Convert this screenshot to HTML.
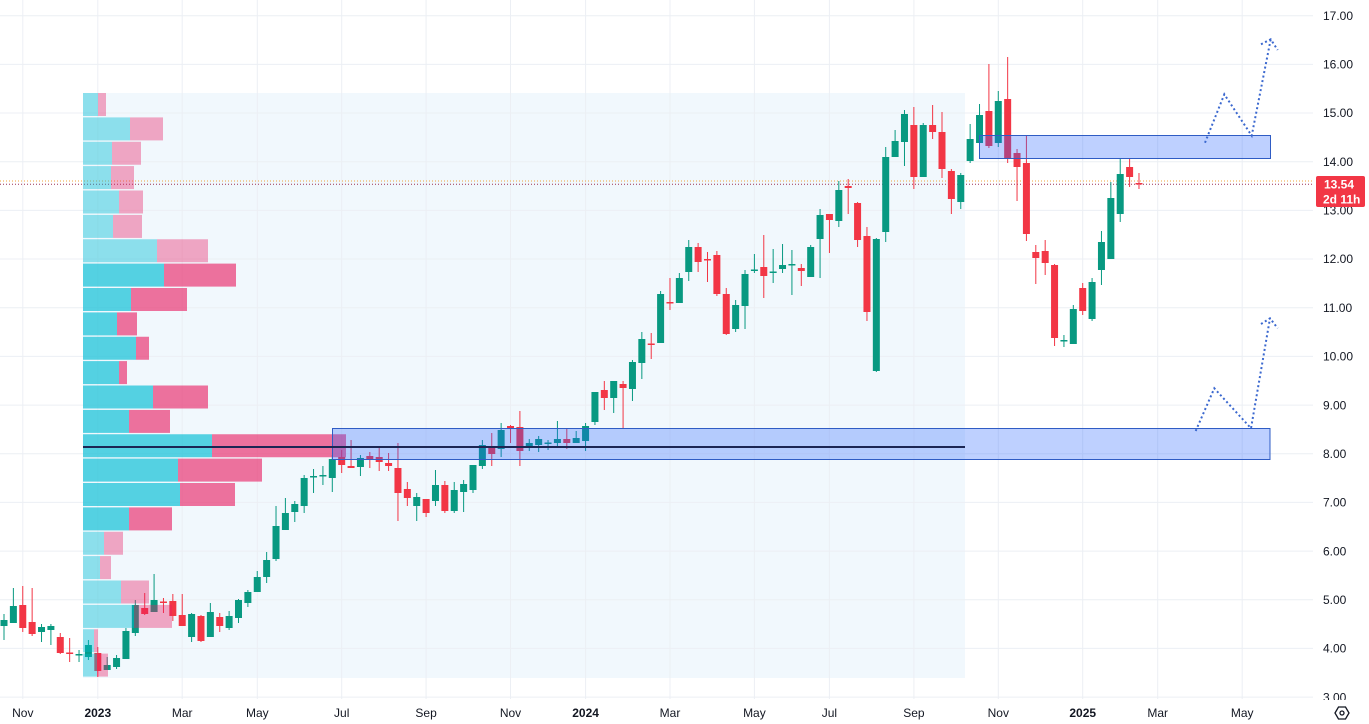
<!DOCTYPE html>
<html><head><meta charset="utf-8"><style>
html,body{margin:0;padding:0;background:#fff;}
svg{display:block;}
text{font-family:"Liberation Sans",sans-serif;font-size:12px;fill:#131722;}
</style></head><body>
<svg width="1369" height="724" viewBox="0 0 1369 724" xmlns="http://www.w3.org/2000/svg">
<rect x="0" y="0" width="1369" height="724" fill="#ffffff"/>
<!-- VP region background -->
<rect x="83" y="93" width="882" height="585" fill="#f1f8fd"/>
<!-- grid -->
<g stroke="#eceff4" stroke-width="1">
<line x1="0" x2="1313" y1="15.7" y2="15.7"/><line x1="0" x2="1313" y1="64.4" y2="64.4"/><line x1="0" x2="1313" y1="113" y2="113"/><line x1="0" x2="1313" y1="161.7" y2="161.7"/><line x1="0" x2="1313" y1="210.4" y2="210.4"/><line x1="0" x2="1313" y1="259" y2="259"/><line x1="0" x2="1313" y1="307.7" y2="307.7"/><line x1="0" x2="1313" y1="356.4" y2="356.4"/><line x1="0" x2="1313" y1="405.1" y2="405.1"/><line x1="0" x2="1313" y1="453.7" y2="453.7"/><line x1="0" x2="1313" y1="502.4" y2="502.4"/><line x1="0" x2="1313" y1="551.1" y2="551.1"/><line x1="0" x2="1313" y1="599.7" y2="599.7"/><line x1="0" x2="1313" y1="648.4" y2="648.4"/><line x1="0" x2="1313" y1="697.1" y2="697.1"/>
<line y1="0" y2="699" x1="22.8" x2="22.8"/><line y1="0" y2="699" x1="97.8" x2="97.8"/><line y1="0" y2="699" x1="182.2" x2="182.2"/><line y1="0" y2="699" x1="257.3" x2="257.3"/><line y1="0" y2="699" x1="341.7" x2="341.7"/><line y1="0" y2="699" x1="426.1" x2="426.1"/><line y1="0" y2="699" x1="510.5" x2="510.5"/><line y1="0" y2="699" x1="585.6" x2="585.6"/><line y1="0" y2="699" x1="670" x2="670"/><line y1="0" y2="699" x1="754.4" x2="754.4"/><line y1="0" y2="699" x1="829.4" x2="829.4"/><line y1="0" y2="699" x1="913.9" x2="913.9"/><line y1="0" y2="699" x1="998.3" x2="998.3"/><line y1="0" y2="699" x1="1082.7" x2="1082.7"/><line y1="0" y2="699" x1="1157.7" x2="1157.7"/><line y1="0" y2="699" x1="1242.2" x2="1242.2"/>
</g>
<!-- current price dotted lines -->
<line x1="0" x2="1313" y1="181" y2="181" stroke="#f0a43a" stroke-width="1" stroke-dasharray="1 2"/>
<line x1="0" x2="1313" y1="184.3" y2="184.3" stroke="#9a2f55" stroke-width="1" stroke-dasharray="1 2"/>
<!-- green candles -->
<path fill="none" stroke="#089981" stroke-width="1" d="M4 614V640M13.38 588V623M41.52 624V642M50.9 624V645M79.04 650V662M88.42 640V660M107.18 657V670M116.56 655V669M125.94 628V659M135.32 600V636M154.08 574V612M191.6 613V642M210.36 603V637M229.12 611V630M238.5 599V623M247.88 590V607M257.26 571V592M266.64 552V583M276.02 506V561M285.4 498V530M294.78 501V522M304.16 475V513M313.54 469V493M322.92 466V485M332.3 455V492M360.44 455V476M416.72 493V521M435.48 470V506M454.24 482V513M463.62 480V512M473 465V493M482.38 440V469M501.14 423V457M529.28 439V451M538.66 436V452M548.04 440V450M557.42 421V447M576.18 431V443M585.56 423V451M594.94 392V425M613.7 381V413M632.46 360V401M641.84 332V379M660.6 291V343M679.36 273V303M688.74 240V281M735.64 300V332M745.02 270V329M754.4 254V273M773.16 249V283M782.54 244V273M791.92 250V295M810.68 245V277M820.06 209V278M838.82 181V227M876.34 238V372M885.72 147V242M895.1 130V157M904.48 110V166M923.24 123V177M960.76 173V209M970.14 124V163M979.52 104V143M998.28 91V147M1063.94 335V347M1073.32 305V344M1092.08 278V321M1101.46 231V285M1110.84 182V259M1120.22 158V222"/>
<path fill="#089981" d="M0.5 620h7v6h-7zM9.88 606h7v17h-7zM38.02 627h7v5h-7zM47.4 626h7v4h-7zM75.54 654h7v1.5h-7zM84.92 645h7v12h-7zM103.68 665h7v5h-7zM113.06 658h7v9h-7zM122.44 631h7v28h-7zM131.82 605h7v28h-7zM150.58 600h7v12h-7zM188.1 614h7v23h-7zM206.86 612h7v25h-7zM225.62 616h7v12h-7zM235 600h7v18h-7zM244.38 592h7v11h-7zM253.76 577h7v15h-7zM263.14 560h7v17h-7zM272.52 526h7v33h-7zM281.9 513h7v17h-7zM291.28 504h7v8h-7zM300.66 478h7v28h-7zM310.04 476h7v1.5h-7zM319.42 475h7v1.5h-7zM328.8 459h7v19h-7zM356.94 458h7v9h-7zM413.22 497h7v9h-7zM431.98 485h7v16h-7zM450.74 490h7v21h-7zM460.12 484h7v8h-7zM469.5 465h7v25h-7zM478.88 445h7v21h-7zM497.64 430h7v19h-7zM525.78 443h7v5h-7zM535.16 439h7v6h-7zM544.54 442.5h7v1.5h-7zM553.92 439h7v4h-7zM572.68 438h7v5h-7zM582.06 426h7v15h-7zM591.44 392h7v30h-7zM610.2 381h7v17h-7zM628.96 362h7v27h-7zM638.34 339h7v24h-7zM657.1 294h7v49h-7zM675.86 278h7v25h-7zM685.24 247h7v25h-7zM732.14 305h7v24h-7zM741.52 274h7v32h-7zM750.9 269.5h7v1.5h-7zM769.66 271.5h7v1.5h-7zM779.04 265h7v4h-7zM788.42 264h7v1.5h-7zM807.18 247h7v30h-7zM816.56 215h7v24h-7zM835.32 190h7v31h-7zM872.84 239h7v132h-7zM882.22 157h7v75h-7zM891.6 141h7v16h-7zM900.98 114h7v28h-7zM919.74 125h7v52h-7zM957.26 175h7v27h-7zM966.64 139h7v22h-7zM976.02 115h7v28h-7zM994.78 101h7v42h-7zM1060.44 340h7v1.5h-7zM1069.82 309h7v35h-7zM1088.58 282h7v37h-7zM1097.96 242h7v28h-7zM1107.34 198h7v61h-7zM1116.72 174h7v40h-7z"/>
<!-- red candles -->
<path fill="none" stroke="#f23645" stroke-width="1" d="M22.76 586V632M32.14 588V636M60.28 633V654M69.66 638V662M97.8 647V677M144.7 593V615M163.46 598V613M172.84 594V621M182.22 594V626M200.98 615V642M219.74 613V632M341.68 450V473M351.06 440V468M369.82 452V468M379.2 448V471M388.58 453V471M397.96 443V521M407.34 482V506M426.1 499V517M444.86 481V513M491.76 433V466M510.52 425V443M519.9 411V466M566.8 429V449M604.32 381V410M623.08 381V428M651.22 333V359M669.98 278V310M698.12 243V272M707.5 252V282M716.88 251V296M726.26 288V335M763.78 235V298M801.3 264V286M829.44 214V253M848.2 179V214M857.58 202V247M866.96 227V321M913.86 107V189M932.62 105V139M942 112V178M951.38 169V214M988.9 64V148M1007.66 57V163M1017.04 149V201M1026.42 136V241M1035.8 245V284M1045.18 240V275M1054.56 264V346M1082.7 283V315M1129.6 158V187M1138.98 173V189"/>
<path fill="#f23645" d="M19.26 605h7v23h-7zM28.64 622h7v12h-7zM56.78 637h7v16h-7zM66.16 652.5h7v1.5h-7zM94.3 653h7v18h-7zM141.2 608h7v6h-7zM159.96 601.5h7v1.5h-7zM169.34 601h7v15h-7zM178.72 615h7v11h-7zM197.48 616h7v25h-7zM216.24 617h7v9h-7zM338.18 457h7v8h-7zM347.56 466h7v2h-7zM366.32 456h7v3h-7zM375.7 457h7v5h-7zM385.08 463h7v3h-7zM394.46 468h7v25h-7zM403.84 489h7v9h-7zM422.6 499h7v14h-7zM441.36 485h7v26h-7zM488.26 448h7v6h-7zM507.02 426h7v2h-7zM516.4 427h7v24h-7zM563.3 439h7v4h-7zM600.82 390h7v8h-7zM619.58 384h7v4h-7zM647.72 343.5h7v1.5h-7zM666.48 302h7v1.5h-7zM694.62 247h7v15h-7zM704 259h7v1.5h-7zM713.38 255h7v39h-7zM722.76 294h7v40h-7zM760.28 267h7v9h-7zM797.8 268h7v3h-7zM825.94 214h7v6h-7zM844.7 186h7v2h-7zM854.08 203h7v37h-7zM863.46 236h7v76h-7zM910.36 125h7v52h-7zM929.12 125h7v7h-7zM938.5 132h7v37h-7zM947.88 171h7v28h-7zM985.4 111h7v35h-7zM1004.16 99h7v59h-7zM1013.54 153h7v14h-7zM1022.92 163h7v71h-7zM1032.3 252h7v6h-7zM1041.68 251h7v12h-7zM1051.06 265h7v73h-7zM1079.2 288h7v23h-7zM1126.1 167h7v10h-7zM1135.48 183h7v1.5h-7z"/>
<!-- volume profile -->
<g>
<rect x="83" y="93" width="15" height="23" fill="rgba(0,188,212,0.42)"/><rect x="98" y="93" width="8" height="23" fill="rgba(233,30,99,0.38)"/>
<rect x="83" y="117.4" width="47" height="23" fill="rgba(0,188,212,0.42)"/><rect x="130" y="117.4" width="33" height="23" fill="rgba(233,30,99,0.38)"/>
<rect x="83" y="141.75" width="29" height="23" fill="rgba(0,188,212,0.42)"/><rect x="112" y="141.75" width="29" height="23" fill="rgba(233,30,99,0.38)"/>
<rect x="83" y="166.1" width="28" height="23" fill="rgba(0,188,212,0.42)"/><rect x="111" y="166.1" width="23" height="23" fill="rgba(233,30,99,0.38)"/>
<rect x="83" y="190.5" width="36" height="23" fill="rgba(0,188,212,0.42)"/><rect x="119" y="190.5" width="24" height="23" fill="rgba(233,30,99,0.38)"/>
<rect x="83" y="214.9" width="30" height="23" fill="rgba(0,188,212,0.42)"/><rect x="113" y="214.9" width="29" height="23" fill="rgba(233,30,99,0.38)"/>
<rect x="83" y="239.25" width="74" height="23" fill="rgba(0,188,212,0.42)"/><rect x="157" y="239.25" width="51" height="23" fill="rgba(233,30,99,0.38)"/>
<rect x="83" y="263.6" width="81" height="23" fill="rgba(0,188,212,0.65)"/><rect x="164" y="263.6" width="72" height="23" fill="rgba(233,30,99,0.62)"/>
<rect x="83" y="288" width="48" height="23" fill="rgba(0,188,212,0.65)"/><rect x="131" y="288" width="56" height="23" fill="rgba(233,30,99,0.62)"/>
<rect x="83" y="312.4" width="34" height="23" fill="rgba(0,188,212,0.65)"/><rect x="117" y="312.4" width="20" height="23" fill="rgba(233,30,99,0.62)"/>
<rect x="83" y="336.75" width="53" height="23" fill="rgba(0,188,212,0.65)"/><rect x="136" y="336.75" width="13" height="23" fill="rgba(233,30,99,0.62)"/>
<rect x="83" y="361.1" width="36" height="23" fill="rgba(0,188,212,0.65)"/><rect x="119" y="361.1" width="8" height="23" fill="rgba(233,30,99,0.62)"/>
<rect x="83" y="385.5" width="70" height="23" fill="rgba(0,188,212,0.65)"/><rect x="153" y="385.5" width="55" height="23" fill="rgba(233,30,99,0.62)"/>
<rect x="83" y="409.9" width="46" height="23" fill="rgba(0,188,212,0.65)"/><rect x="129" y="409.9" width="41" height="23" fill="rgba(233,30,99,0.62)"/>
<rect x="83" y="434.25" width="129" height="23" fill="rgba(0,188,212,0.65)"/><rect x="212" y="434.25" width="134" height="23" fill="rgba(233,30,99,0.62)"/>
<rect x="83" y="458.6" width="95" height="23" fill="rgba(0,188,212,0.65)"/><rect x="178" y="458.6" width="84" height="23" fill="rgba(233,30,99,0.62)"/>
<rect x="83" y="483" width="97" height="23" fill="rgba(0,188,212,0.65)"/><rect x="180" y="483" width="55" height="23" fill="rgba(233,30,99,0.62)"/>
<rect x="83" y="507.4" width="46" height="23" fill="rgba(0,188,212,0.65)"/><rect x="129" y="507.4" width="43" height="23" fill="rgba(233,30,99,0.62)"/>
<rect x="83" y="531.75" width="21" height="23" fill="rgba(0,188,212,0.42)"/><rect x="104" y="531.75" width="19" height="23" fill="rgba(233,30,99,0.38)"/>
<rect x="83" y="556.1" width="17" height="23" fill="rgba(0,188,212,0.42)"/><rect x="100" y="556.1" width="11" height="23" fill="rgba(233,30,99,0.38)"/>
<rect x="83" y="580.5" width="38" height="23" fill="rgba(0,188,212,0.42)"/><rect x="121" y="580.5" width="28" height="23" fill="rgba(233,30,99,0.38)"/>
<rect x="83" y="604.9" width="51" height="23" fill="rgba(0,188,212,0.42)"/><rect x="134" y="604.9" width="38" height="23" fill="rgba(233,30,99,0.38)"/>
<rect x="83" y="629.25" width="11" height="23" fill="rgba(0,188,212,0.42)"/><rect x="94" y="629.25" width="4" height="23" fill="rgba(233,30,99,0.38)"/>
<rect x="83" y="653.6" width="14" height="23" fill="rgba(0,188,212,0.42)"/><rect x="97" y="653.6" width="11" height="23" fill="rgba(233,30,99,0.38)"/>
</g>
<!-- zones -->
<rect x="332.5" y="428.5" width="937.5" height="31" fill="rgba(41,98,255,0.3)" stroke="#2f5cc4" stroke-width="1"/>
<rect x="979.5" y="135.5" width="291" height="23" fill="rgba(41,98,255,0.3)" stroke="#2f5cc4" stroke-width="1"/>
<!-- POC line -->
<line x1="83" x2="965" y1="447" y2="447" stroke="#1c2654" stroke-width="2"/>
<!-- dotted arrows -->
<g fill="none" stroke="#3b68cf" stroke-width="2" stroke-dasharray="2 2.6">
<polyline points="1205,142.7 1224.3,94.3 1251.7,135.7 1270.7,39.3"/>
<polyline points="1261,44.3 1270.7,39.3 1277.7,50"/>
<polyline points="1195.7,431 1214.3,388.3 1251,428.3 1270,318.3"/>
<polyline points="1261,324 1270,318.3 1277.7,328.3"/>
</g>
<!-- price axis labels -->
<defs><clipPath id="pc"><rect x="1313" y="0" width="56" height="700"/></clipPath></defs>
<g clip-path="url(#pc)">
<text x="1323" y="20">17.00</text>
<text x="1323" y="68.6">16.00</text>
<text x="1323" y="117.2">15.00</text>
<text x="1323" y="165.9">14.00</text>
<text x="1323" y="214.6">13.00</text>
<text x="1323" y="263.2">12.00</text>
<text x="1323" y="311.9">11.00</text>
<text x="1323" y="360.6">10.00</text>
<text x="1323" y="409.3">9.00</text>
<text x="1323" y="457.9">8.00</text>
<text x="1323" y="506.6">7.00</text>
<text x="1323" y="555.3">6.00</text>
<text x="1323" y="603.9">5.00</text>
<text x="1323" y="652.6">4.00</text>
<text x="1323" y="701.3">3.00</text>
</g>
<!-- last price label -->
<rect x="1316" y="176" width="49" height="31" rx="2" fill="#f23645"/>
<text x="1324" y="188.3" style="fill:#ffffff;font-weight:bold;">13.54</text>
<text x="1323" y="203.5" style="fill:#ffffff;font-weight:bold;">2d 11h</text>
<!-- time axis -->
<g text-anchor="middle">
<text x="22.8" y="717">Nov</text>
<text x="97.8" y="717" style="font-weight:bold">2023</text>
<text x="182.2" y="717">Mar</text>
<text x="257.3" y="717">May</text>
<text x="341.7" y="717">Jul</text>
<text x="426.1" y="717">Sep</text>
<text x="510.5" y="717">Nov</text>
<text x="585.6" y="717" style="font-weight:bold">2024</text>
<text x="670" y="717">Mar</text>
<text x="754.4" y="717">May</text>
<text x="829.4" y="717">Jul</text>
<text x="913.9" y="717">Sep</text>
<text x="998.3" y="717">Nov</text>
<text x="1082.7" y="717" style="font-weight:bold">2025</text>
<text x="1157.7" y="717">Mar</text>
<text x="1242.2" y="717">May</text>
</g>
<!-- settings icon -->
<polygon points="1335,713 1338.5,707 1345.5,707 1349,713 1345.5,719 1338.5,719" fill="none" stroke="#131722" stroke-width="1.3"/>
<circle cx="1342" cy="713" r="2" fill="none" stroke="#131722" stroke-width="1.3"/>
</svg>
</body></html>
